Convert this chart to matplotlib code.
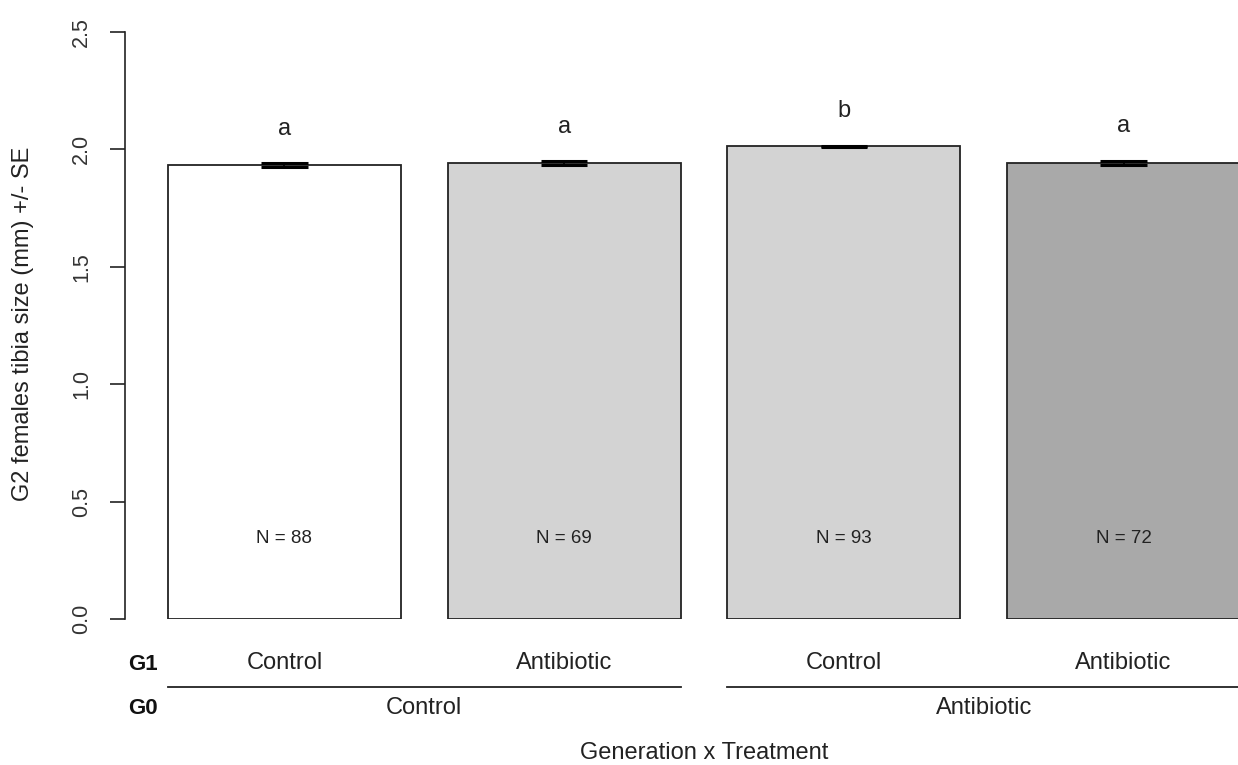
import matplotlib
matplotlib.use("Agg")
import matplotlib.pyplot as plt
import matplotlib.transforms as mtransforms

plt.rcParams['font.family'] = ['Liberation Sans', 'DejaVu Sans']

# ---- data ----
g1_labels = ["Control", "Antibiotic", "Control", "Antibiotic"]
g0_labels = ["Control", "Antibiotic"]
means = [1.932, 1.942, 2.013, 1.943]
ses = [0.008, 0.007, 0.003, 0.008]
letters = ["a", "a", "b", "a"]
ns = [88, 69, 93, 72]
colors = ["#FFFFFF", "#D3D3D3", "#D3D3D3", "#A9A9A9"]
yticks = [0.0, 0.5, 1.0, 1.5, 2.0, 2.5]
ytick_labels = ["0.0", "0.5", "1.0", "1.5", "2.0", "2.5"]

W, H = 1238, 765
fig = plt.figure(figsize=(W / 100, H / 100), dpi=100)
left_px, right_px, top_px, bot_px = 125, 1283, 32, 619
ax = fig.add_axes([left_px / W, 1 - bot_px / H, (right_px - left_px) / W, (bot_px - top_px) / H])

xs = [0.7 + 1.2 * i for i in range(len(means))]
ax.bar(xs, means, width=1.0, color=colors, edgecolor="#222222", linewidth=1.3, zorder=2)

# error bars (R style arrows with flat heads)
ax.vlines(xs, [m - s for m, s in zip(means, ses)], [m + s for m, s in zip(means, ses)],
          color="black", linewidth=1.2, zorder=3)
for x, m, s in zip(xs, means, ses):
    ax.hlines([m - s, m + s], x - 0.1, x + 0.1, color="black", linewidth=2.2, zorder=3)

ax.set_xlim(0.016, 4.984)
ax.set_ylim(0, 2.5)

for sp in ["top", "right", "bottom"]:
    ax.spines[sp].set_visible(False)
ax.spines["left"].set_linewidth(1.2)
ax.spines["left"].set_color("#222222")
ax.set_xticks([])
ax.set_yticks(yticks)
ax.set_yticklabels(ytick_labels, rotation=90, va="center", fontsize=15.5, color="#333333")
ax.tick_params(axis="y", length=10.8, width=1.2, pad=13, color="#222222")

# letters above bars
for x, m, s, l in zip(xs, means, ses, letters):
    ax.annotate(l, xy=(x, m + s), xytext=(0, 25), textcoords="offset points",
                ha="center", va="center", fontsize=17, color="#222222")

# N labels
for x, n in zip(xs, ns):
    ax.annotate(f"N = {n}", xy=(x, 0), xytext=(0, 58), textcoords="offset points",
                ha="center", va="center", fontsize=13.5, color="#222222")

# G1 labels
for x, l in zip(xs, g1_labels):
    ax.annotate(l, xy=(x, 0), xytext=(0, -32), textcoords="offset points",
                ha="center", va="center", fontsize=17, color="#222222", annotation_clip=False)

# group lines and G0 labels
trans = mtransforms.blended_transform_factory(ax.transData, fig.transFigure)
line_y = 1 - 687 / H
for gi, lab in enumerate(g0_labels):
    x0 = xs[2 * gi] - 0.5
    x1 = xs[2 * gi + 1] + 0.5
    ax.plot([x0, x1], [line_y, line_y], transform=trans, color="#222222",
            linewidth=1.3, clip_on=False)
    ax.text((xs[2 * gi] + xs[2 * gi + 1]) / 2, 1 - 708 / H, lab, transform=trans,
            ha="center", va="center", fontsize=17, color="#222222")

fig.text(128 / W, 1 - 664 / H, "G1", ha="left", va="center", fontsize=16,
         fontweight="bold", color="#111111")
fig.text(128 / W, 1 - 708 / H, "G0", ha="left", va="center", fontsize=16,
         fontweight="bold", color="#111111")

fig.text((left_px + right_px) / 2 / W, 1 - 753 / H, "Generation x Treatment",
         ha="center", va="center", fontsize=17, color="#222222")
fig.text(23 / W, 1 - 324 / H, "G2 females tibia size (mm) +/- SE", rotation=90,
         ha="center", va="center", fontsize=17, color="#222222")

fig.savefig("out.png", dpi=100)
